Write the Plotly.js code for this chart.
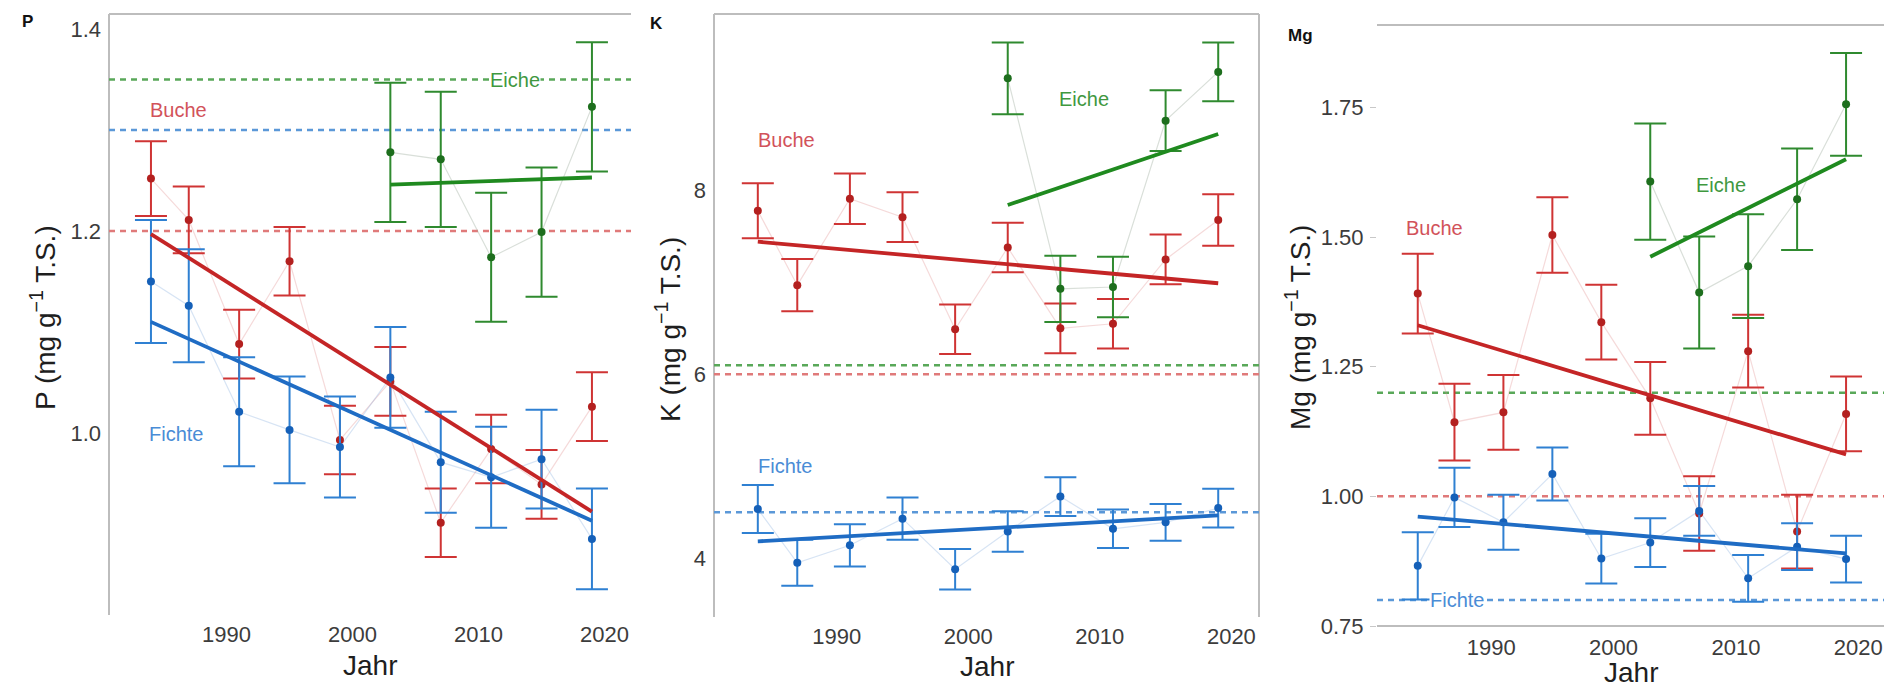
<!DOCTYPE html>
<html>
<head>
<meta charset="utf-8">
<script src="https://cdn.plot.ly/plotly-3.0.1.min.js"></script>
<style>html,body{margin:0;padding:0;background:#fff;}#chart{width:1893px;height:691px;}</style>
</head>
<body>
<div id="chart"></div>
<script>
// ---------- data ----------
const years = [1984, 1987, 1991, 1995, 1999, 2003, 2007, 2011, 2015, 2019];
const eicheYears = [2003, 2007, 2011, 2015, 2019];
const trendYears = [1984, 2019];
const eicheTrendYears = [2003, 2019];
const xTickVals = [1990, 2000, 2010, 2020];
const xTickText = ["1990", "2000", "2010", "2020"];

// P (mg g-1 T.S.)
const P_buche = [1.252, 1.211, 1.088, 1.170, 0.993, 1.051, 0.911, 0.984, 0.949, 1.026];
const P_buche_err = [0.037, 0.033, 0.034, 0.034, 0.034, 0.034, 0.034, 0.034, 0.034, 0.034];
const P_fichte = [1.150, 1.126, 1.021, 1.003, 0.986, 1.055, 0.971, 0.956, 0.974, 0.895];
const P_fichte_err = [0.061, 0.056, 0.054, 0.053, 0.050, 0.050, 0.050, 0.050, 0.049, 0.050];
const P_eiche = [1.278, 1.271, 1.174, 1.199, 1.323];
const P_eiche_err = [0.069, 0.067, 0.064, 0.064, 0.064];
const P_trend_buche = [1.197, 0.922];
const P_trend_fichte = [1.110, 0.913];
const P_trend_eiche = [1.246, 1.253];
const P_ref = {Buche: 1.20, Fichte: 1.30, Eiche: 1.35};
const P_yTicks = [1.0, 1.2, 1.4];
const P_yTickText = ["1.0", "1.2", "1.4"];

// K (mg g-1 T.S.)
const K_buche = [7.78, 6.97, 7.91, 7.71, 6.49, 7.38, 6.50, 6.55, 7.25, 7.68];
const K_buche_err = [0.30, 0.285, 0.275, 0.27, 0.27, 0.27, 0.27, 0.27, 0.27, 0.28];
const K_fichte = [4.535, 3.95, 4.14, 4.43, 3.88, 4.29, 4.67, 4.32, 4.39, 4.545];
const K_fichte_err = [0.26, 0.25, 0.23, 0.23, 0.22, 0.22, 0.21, 0.21, 0.20, 0.21];
const K_eiche = [9.22, 6.93, 6.95, 8.76, 9.29];
const K_eiche_err = [0.39, 0.36, 0.33, 0.33, 0.32];
const K_trend_buche = [7.443, 6.991];
const K_trend_fichte = [4.183, 4.465];
const K_trend_eiche = [7.842, 8.614];
const K_ref = {Buche: 6.0, Fichte: 4.5, Eiche: 6.1};
const K_yTicks = [4, 6, 8];
const K_yTickText = ["4", "6", "8"];

// Mg (mg g-1 T.S.)
const Mg_buche = [1.391, 1.143, 1.162, 1.504, 1.336, 1.189, 0.967, 1.280, 0.932, 1.159];
const Mg_buche_err = [0.077, 0.074, 0.072, 0.073, 0.072, 0.070, 0.072, 0.070, 0.071, 0.072];
const Mg_fichte = [0.866, 0.998, 0.950, 1.043, 0.880, 0.911, 0.972, 0.842, 0.903, 0.879];
const Mg_fichte_err = [0.065, 0.057, 0.053, 0.051, 0.048, 0.047, 0.048, 0.045, 0.045, 0.045];
const Mg_eiche = [1.607, 1.393, 1.444, 1.573, 1.756];
const Mg_eiche_err = [0.112, 0.108, 0.100, 0.098, 0.099];
const Mg_trend_buche = [1.330, 1.081];
const Mg_trend_fichte = [0.961, 0.890];
const Mg_trend_eiche = [1.462, 1.650];
const Mg_ref = {Buche: 1.0, Fichte: 0.80, Eiche: 1.20};
const Mg_yTicks = [0.75, 1.00, 1.25, 1.50, 1.75];
const Mg_yTickText = ["0.75", "1.00", "1.25", "1.50", "1.75"];

// ---------- styling ----------
const W = 1893, H = 691;
const FONT = '"Liberation Sans", Arial, sans-serif';
const col = {
  Buche:  {pt: '#b3201f', err: '#cf3434', trend: '#c42526', faint: 'rgba(225,140,140,0.32)', ref: '#e07a7a', label: '#d2525a'},
  Fichte: {pt: '#1560b8', err: '#2f80d2', trend: '#1f6cc4', faint: 'rgba(130,170,220,0.32)', ref: '#5b98d8', label: '#4a8cd6'},
  Eiche:  {pt: '#1d6e1d', err: '#2f8a2f', trend: '#1f8a1f', faint: 'rgba(160,175,160,0.4)', ref: '#59a859', label: '#3f983f'}
};
const px = v => v / W;
const py = v => 1 - v / H;

const panels = [
  {key: 'P', xa: 'x', ya: 'y', xDom: [109, 631], yDom: [14, 615], yRange: [0.8196, 1.415],
   yTicks: P_yTicks, yTickText: P_yTickText,
   series: {Buche: [years, P_buche, P_buche_err, P_trend_buche, trendYears],
            Fichte: [years, P_fichte, P_fichte_err, P_trend_fichte, trendYears],
            Eiche: [eicheYears, P_eiche, P_eiche_err, P_trend_eiche, eicheTrendYears]},
   ref: P_ref,
   labels: {Buche: [1986.2, 1.320], Fichte: [1986.0, 0.999], Eiche: [2012.9, 1.350]},
   title: 'P (mg g<sup>−1</sup> T.S.)', titlePos: [43, 318], letter: 'P', letterPos: [27, 21], jahrY: 665,
   frame: ['left', 'top']},
  {key: 'K', xa: 'x2', ya: 'y2', xDom: [714, 1259], yDom: [14, 617], yRange: [3.36, 9.92],
   yTicks: K_yTicks, yTickText: K_yTickText,
   series: {Buche: [years, K_buche, K_buche_err, K_trend_buche, trendYears],
            Fichte: [years, K_fichte, K_fichte_err, K_trend_fichte, trendYears],
            Eiche: [eicheYears, K_eiche, K_eiche_err, K_trend_eiche, eicheTrendYears]},
   ref: K_ref,
   labels: {Buche: [1986.2, 8.55], Fichte: [1986.1, 5.0], Eiche: [2008.8, 9.0]},
   title: 'K (mg g<sup>−1</sup> T.S.)', titlePos: [668, 330], letter: 'K', letterPos: [656, 23], jahrY: 666,
   frame: ['left', 'top', 'right']},
  {key: 'Mg', xa: 'x3', ya: 'y3', xDom: [1377, 1884], yDom: [25, 626], yRange: [0.75, 1.909],
   yTicks: Mg_yTicks, yTickText: Mg_yTickText,
   series: {Buche: [years, Mg_buche, Mg_buche_err, Mg_trend_buche, trendYears],
            Fichte: [years, Mg_fichte, Mg_fichte_err, Mg_trend_fichte, trendYears],
            Eiche: [eicheYears, Mg_eiche, Mg_eiche_err, Mg_trend_eiche, eicheTrendYears]},
   ref: Mg_ref,
   labels: {Buche: [1985.4, 1.518], Fichte: [1987.2, 0.80], Eiche: [2008.8, 1.600]},
   title: 'Mg (mg g<sup>−1</sup> T.S.)', titlePos: [1298, 328], letter: 'Mg', letterPos: [1300, 35], jahrY: 672,
   frame: ['top', 'bottom'], yTickMarks: true}
];

const traces = [];
const shapes = [];
const annotations = [];
const layout = {
  width: W, height: H, autosize: false,
  margin: {l: 0, r: 0, t: 0, b: 0},
  paper_bgcolor: '#ffffff', plot_bgcolor: '#ffffff',
  showlegend: false,
  font: {family: FONT, color: '#3a3a3a'}
};

const speciesOrder = ['Buche', 'Fichte', 'Eiche'];

panels.forEach((p, i) => {
  const sfx = i === 0 ? '' : String(i + 1);
  layout['xaxis' + sfx] = {
    domain: [px(p.xDom[0]), px(p.xDom[1])],
    range: [1980.67, 2022.1],
    anchor: p.ya,
    showgrid: false, zeroline: false, showline: false,
    tickvals: xTickVals, ticktext: xTickText, ticks: '',
    ticklabelstandoff: p.yTickMarks ? 6 : 4,
    tickfont: {family: FONT, size: 22, color: '#3c3c3c'}
  };
  layout['yaxis' + sfx] = {
    domain: [py(p.yDom[1]), py(p.yDom[0])],
    range: p.yRange,
    anchor: p.xa,
    showgrid: false, zeroline: false, showline: false,
    tickvals: p.yTicks, ticktext: p.yTickText,
    ticks: p.yTickMarks ? 'outside' : '', ticklen: 6, tickcolor: '#c8c8c8', tickwidth: 1,
    ticklabelstandoff: p.yTickMarks ? 2 : 7,
    tickfont: {family: FONT, size: 22, color: '#3c3c3c'}
  };

  // frame lines
  const lineStyle = {color: '#bdbdbd', width: 2};
  const xref = p.xa + ' domain', yref = p.ya + ' domain';
  p.frame.forEach(side => {
    let s;
    if (side === 'left') s = {x0: 0, x1: 0, y0: 0, y1: 1};
    if (side === 'right') s = {x0: 1, x1: 1, y0: 0, y1: 1};
    if (side === 'top') s = {x0: 0, x1: 1, y0: 1, y1: 1};
    if (side === 'bottom') s = {x0: 0, x1: 1, y0: 0, y1: 0};
    shapes.push(Object.assign({type: 'line', xref: xref, yref: yref, line: lineStyle, layer: 'below'}, s));
  });

  // reference (dashed) lines
  speciesOrder.forEach(sp => {
    shapes.push({type: 'line', xref: xref, yref: p.ya, x0: 0, x1: 1,
      y0: p.ref[sp], y1: p.ref[sp], layer: 'below',
      line: {color: col[sp].ref, width: 2.5, dash: '6px,5px'}});
  });

  // faint connecting lines
  speciesOrder.forEach(sp => {
    const [xs, ys] = p.series[sp];
    traces.push({type: 'scatter', mode: 'lines', x: xs, y: ys, xaxis: p.xa, yaxis: p.ya,
      line: {color: col[sp].faint, width: 1.2}, hoverinfo: 'skip'});
  });
  // error bars + points
  speciesOrder.forEach(sp => {
    const [xs, ys, es] = p.series[sp];
    traces.push({type: 'scatter', mode: 'markers', x: xs, y: ys, xaxis: p.xa, yaxis: p.ya,
      marker: {color: col[sp].pt, size: 8},
      error_y: {type: 'data', array: es, visible: true, color: col[sp].err, thickness: 2, width: 16}});
  });
  // regression lines
  speciesOrder.forEach(sp => {
    const s = p.series[sp];
    traces.push({type: 'scatter', mode: 'lines', x: s[4], y: s[3], xaxis: p.xa, yaxis: p.ya,
      line: {color: col[sp].trend, width: 3.8}});
  });

  // species labels
  speciesOrder.forEach(sp => {
    annotations.push({xref: p.xa, yref: p.ya, x: p.labels[sp][0], y: p.labels[sp][1],
      text: sp, showarrow: false, xanchor: 'center', yanchor: 'middle',
      bgcolor: '#ffffff', borderpad: 0,
      font: {family: FONT, size: 20, color: col[sp].label}});
  });

  // y-axis title
  annotations.push({xref: 'paper', yref: 'paper', x: px(p.titlePos[0]), y: py(p.titlePos[1]),
    text: p.title, textangle: -90, showarrow: false, xanchor: 'center', yanchor: 'middle',
    font: {family: FONT, size: 28, color: '#1e1e1e'}});
  // x-axis title
  annotations.push({xref: p.xa + ' domain', yref: 'paper', x: 0.5, y: py(p.jahrY),
    text: 'Jahr', showarrow: false, xanchor: 'center', yanchor: 'middle',
    font: {family: FONT, size: 28, color: '#1e1e1e'}});
  // panel letter
  annotations.push({xref: 'paper', yref: 'paper', x: px(p.letterPos[0]), y: py(p.letterPos[1]),
    text: '<b>' + p.letter + '</b>', showarrow: false, xanchor: 'center', yanchor: 'middle',
    font: {family: FONT, size: 17, color: '#111111'}});
});

layout.shapes = shapes;
layout.annotations = annotations;

Plotly.newPlot('chart', traces, layout, {staticPlot: true, displayModeBar: false});
</script>
</body>
</html>
